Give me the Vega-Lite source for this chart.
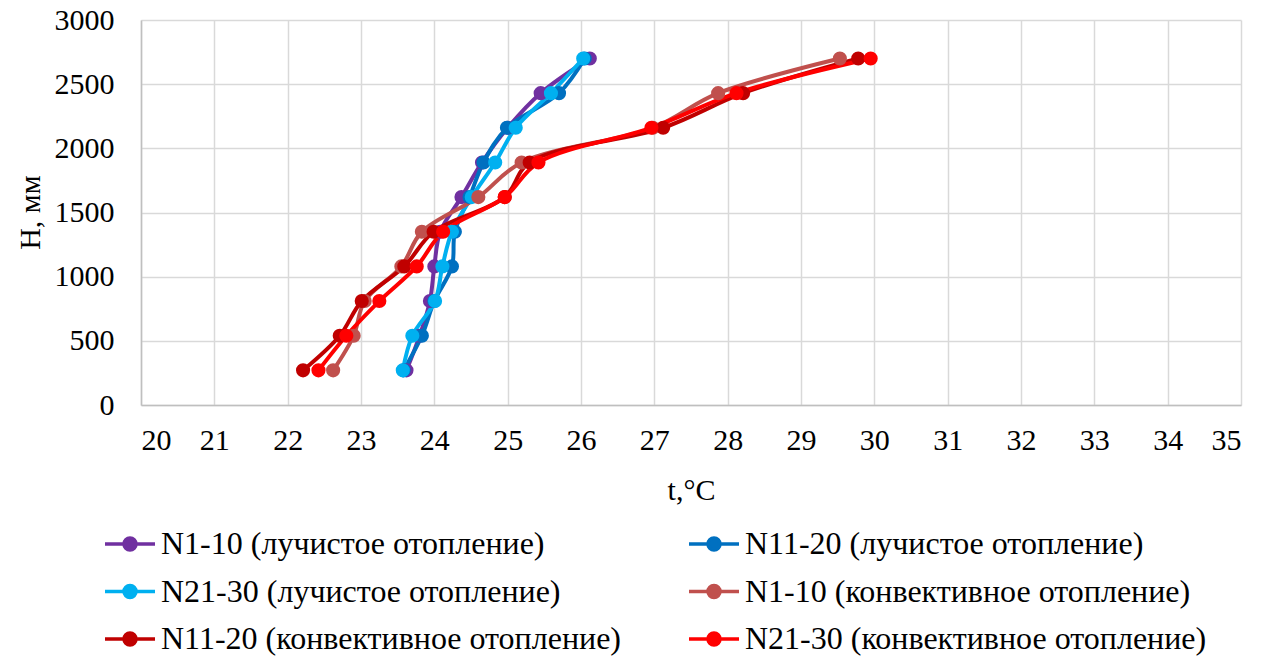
{
  "$schema": "https://vega.github.io/schema/vega-lite/v6.json",
  "width": 1100,
  "height": 385,
  "autosize": {"type": "none"},
  "padding": {"left": 141, "top": 20, "right": 34, "bottom": 258},
  "background": "white",
  "config": {
    "font": "Liberation Serif",
    "view": {"stroke": null},
    "axis": {
      "labelFont": "Liberation Serif",
      "titleFont": "Liberation Serif",
      "labelFontSize": 30,
      "titleFontSize": 30,
      "labelColor": "#000000",
      "titleColor": "#000000",
      "titleFontWeight": "normal",
      "gridColor": "#D9D9D9",
      "gridWidth": 1.5,
      "domainColor": "#BFBFBF",
      "domainWidth": 1.5,
      "ticks": false
    },
    "legend": {
      "labelFont": "Liberation Serif",
      "labelFontSize": 32,
      "labelColor": "#000000"
    }
  },
  "data": {
    "values": [
      {"s": "N1-10 (лучистое отопление)", "t": 23.62, "H": 270},
      {"s": "N1-10 (лучистое отопление)", "t": 23.80, "H": 540},
      {"s": "N1-10 (лучистое отопление)", "t": 23.94, "H": 810},
      {"s": "N1-10 (лучистое отопление)", "t": 24.00, "H": 1080},
      {"s": "N1-10 (лучистое отопление)", "t": 24.08, "H": 1350},
      {"s": "N1-10 (лучистое отопление)", "t": 24.37, "H": 1620},
      {"s": "N1-10 (лучистое отопление)", "t": 24.65, "H": 1890},
      {"s": "N1-10 (лучистое отопление)", "t": 25.00, "H": 2160},
      {"s": "N1-10 (лучистое отопление)", "t": 25.45, "H": 2430},
      {"s": "N1-10 (лучистое отопление)", "t": 26.12, "H": 2700},
      {"s": "N11-20 (лучистое отопление)", "t": 23.58, "H": 270},
      {"s": "N11-20 (лучистое отопление)", "t": 23.83, "H": 540},
      {"s": "N11-20 (лучистое отопление)", "t": 24.00, "H": 810},
      {"s": "N11-20 (лучистое отопление)", "t": 24.24, "H": 1080},
      {"s": "N11-20 (лучистое отопление)", "t": 24.28, "H": 1350},
      {"s": "N11-20 (лучистое отопление)", "t": 24.48, "H": 1620},
      {"s": "N11-20 (лучистое отопление)", "t": 24.67, "H": 1890},
      {"s": "N11-20 (лучистое отопление)", "t": 24.99, "H": 2160},
      {"s": "N11-20 (лучистое отопление)", "t": 25.70, "H": 2430},
      {"s": "N11-20 (лучистое отопление)", "t": 26.05, "H": 2700},
      {"s": "N21-30 (лучистое отопление)", "t": 23.57, "H": 270},
      {"s": "N21-30 (лучистое отопление)", "t": 23.70, "H": 540},
      {"s": "N21-30 (лучистое отопление)", "t": 24.01, "H": 810},
      {"s": "N21-30 (лучистое отопление)", "t": 24.11, "H": 1080},
      {"s": "N21-30 (лучистое отопление)", "t": 24.24, "H": 1350},
      {"s": "N21-30 (лучистое отопление)", "t": 24.51, "H": 1620},
      {"s": "N21-30 (лучистое отопление)", "t": 24.83, "H": 1890},
      {"s": "N21-30 (лучистое отопление)", "t": 25.11, "H": 2160},
      {"s": "N21-30 (лучистое отопление)", "t": 25.59, "H": 2430},
      {"s": "N21-30 (лучистое отопление)", "t": 26.03, "H": 2700},
      {"s": "N1-10 (конвективное отопление)", "t": 22.62, "H": 270},
      {"s": "N1-10 (конвективное отопление)", "t": 22.90, "H": 540},
      {"s": "N1-10 (конвективное отопление)", "t": 23.05, "H": 810},
      {"s": "N1-10 (конвективное отопление)", "t": 23.55, "H": 1080},
      {"s": "N1-10 (конвективное отопление)", "t": 23.83, "H": 1350},
      {"s": "N1-10 (конвективное отопление)", "t": 24.60, "H": 1620},
      {"s": "N1-10 (конвективное отопление)", "t": 25.19, "H": 1890},
      {"s": "N1-10 (конвективное отопление)", "t": 26.98, "H": 2160},
      {"s": "N1-10 (конвективное отопление)", "t": 27.87, "H": 2430},
      {"s": "N1-10 (конвективное отопление)", "t": 29.53, "H": 2700},
      {"s": "N11-20 (конвективное отопление)", "t": 22.21, "H": 270},
      {"s": "N11-20 (конвективное отопление)", "t": 22.71, "H": 540},
      {"s": "N11-20 (конвективное отопление)", "t": 23.01, "H": 810},
      {"s": "N11-20 (конвективное отопление)", "t": 23.59, "H": 1080},
      {"s": "N11-20 (конвективное отопление)", "t": 23.99, "H": 1350},
      {"s": "N11-20 (конвективное отопление)", "t": 24.96, "H": 1620},
      {"s": "N11-20 (конвективное отопление)", "t": 25.30, "H": 1890},
      {"s": "N11-20 (конвективное отопление)", "t": 27.12, "H": 2160},
      {"s": "N11-20 (конвективное отопление)", "t": 28.21, "H": 2430},
      {"s": "N11-20 (конвективное отопление)", "t": 29.78, "H": 2700},
      {"s": "N21-30 (конвективное отопление)", "t": 22.42, "H": 270},
      {"s": "N21-30 (конвективное отопление)", "t": 22.80, "H": 540},
      {"s": "N21-30 (конвективное отопление)", "t": 23.25, "H": 810},
      {"s": "N21-30 (конвективное отопление)", "t": 23.76, "H": 1080},
      {"s": "N21-30 (конвективное отопление)", "t": 24.12, "H": 1350},
      {"s": "N21-30 (конвективное отопление)", "t": 24.96, "H": 1620},
      {"s": "N21-30 (конвективное отопление)", "t": 25.42, "H": 1890},
      {"s": "N21-30 (конвективное отопление)", "t": 26.96, "H": 2160},
      {"s": "N21-30 (конвективное отопление)", "t": 28.12, "H": 2430},
      {"s": "N21-30 (конвективное отопление)", "t": 29.95, "H": 2700}
    ]
  },
  "encoding": {
    "x": {
      "field": "t", "type": "quantitative",
      "scale": {"domain": [20, 35], "nice": false, "zero": false},
      "axis": {"values": [20,21,22,23,24,25,26,27,28,29,30,31,32,33,34,35], "format": "d", "title": "t,°C", "labelPadding": 20, "titleY": 85, "titleBaseline": "middle"}
    },
    "y": {
      "field": "H", "type": "quantitative",
      "scale": {"domain": [0, 3000], "nice": false},
      "axis": {"values": [0,500,1000,1500,2000,2500,3000], "format": "d", "title": "H, мм", "labelPadding": 27, "titleX": -111, "titleY": 192, "titleAlign": "center", "titleBaseline": "middle", "titleAngle": -90}
    },
    "color": {
      "field": "s", "type": "nominal",
      "scale": {
        "domain": ["N1-10 (лучистое отопление)", "N11-20 (лучистое отопление)", "N21-30 (лучистое отопление)", "N1-10 (конвективное отопление)", "N11-20 (конвективное отопление)", "N21-30 (конвективное отопление)"],
        "range": ["#7030A0", "#0070C0", "#00B0F0", "#C0504D", "#C00000", "#FF0000"]
      },
      "legend": {
        "title": null,
        "orient": "none",
        "direction": "horizontal",
        "legendX": -38,
        "legendY": 497,
        "columns": 2,
        "gridAlign": "all",
        "columnPadding": 59,
        "rowPadding": 4.5,
        "labelLimit": 0,
        "labelFont": "Liberation Serif",
        "labelFontSize": 32,
        "symbolType": "M-1,0L1,0M0.24,0A0.24,0.24,0,1,1,-0.24,0A0.24,0.24,0,1,1,0.24,0Z",
        "symbolSize": 2500,
        "symbolStrokeWidth": 3.5,
        "labelOffset": 4,
        "labelBaseline": "middle",
        "encode": {
          "symbols": {"update": {"fill": {"scale": "color", "field": "value"}, "stroke": {"scale": "color", "field": "value"}, "opacity": {"value": 1}}}
        }
      }
    },
    "order": {"field": "H", "type": "quantitative"}
  },
  "layer": [
    {"mark": {"type": "line", "strokeWidth": 4, "interpolate": "catmull-rom"}},
    {"mark": {"type": "point", "filled": true, "size": 200, "opacity": 1}}
  ]
}
